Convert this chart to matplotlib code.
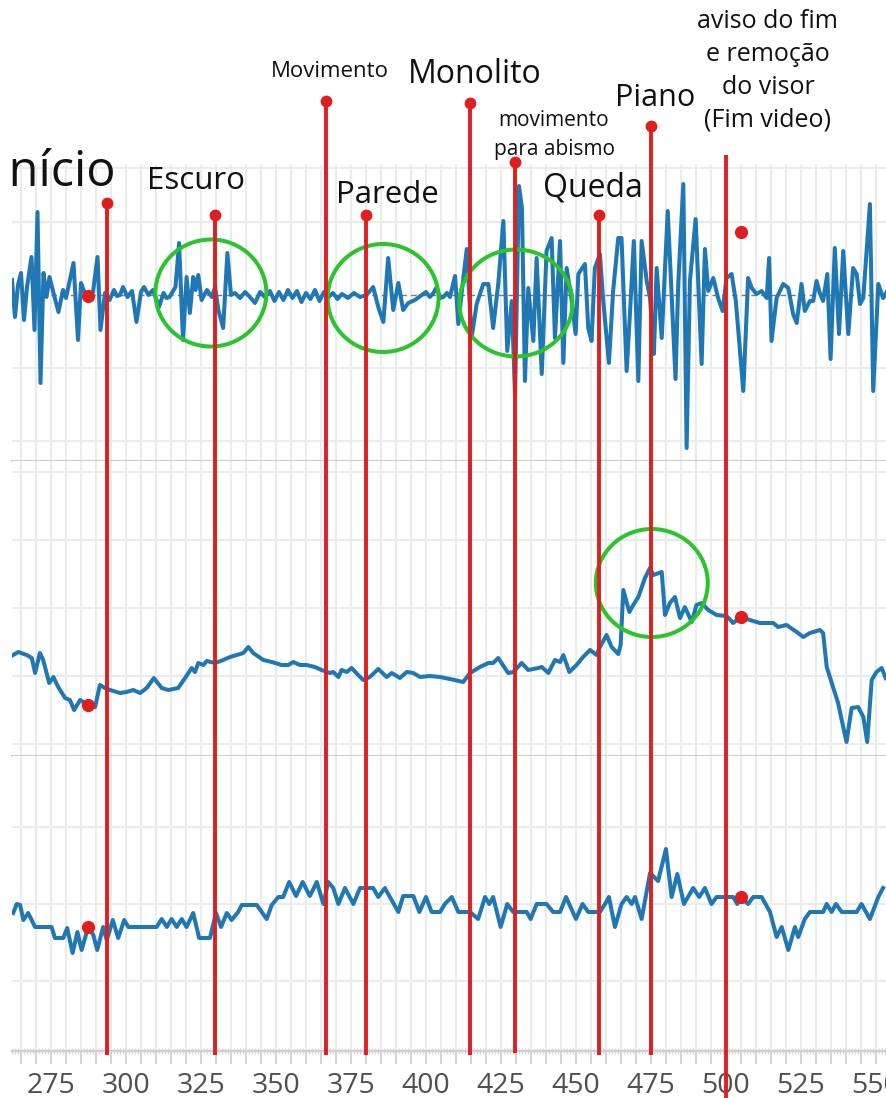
import matplotlib
matplotlib.use('Agg')
import matplotlib.pyplot as plt
from matplotlib.patches import Ellipse
from matplotlib.ticker import MultipleLocator, FuncFormatter

# ---- data (y in arbitrary units, 0 = panel reference line) ----
p1_x = [262, 263, 264, 265, 266, 267, 268.5, 269.5, 270.5, 271.5,
        272.5, 273.5, 274.5, 276, 277.5, 279, 280, 281.5, 282.5, 284,
        285, 286.5, 287.5, 289, 290.5, 291.5, 293, 294.5, 296, 297,
        298, 299, 300.5, 302, 303.5, 305, 306, 307.5, 309, 311,
        312.5, 313.5, 314.5, 316.5, 317.7, 319, 320.2, 321.3, 322.4, 323.2,
        324.1, 325.2, 327, 328.6, 329.7, 330.8, 332.4, 333.8, 335, 336.3,
        338, 339.7, 341.3, 343, 344.7, 346.3, 348, 349.5, 351, 352.5,
        354, 355.5, 357, 358.5, 360, 361.5, 363, 364.5, 366, 367.5,
        369, 370.5, 372, 374, 376, 378, 380.2, 382.4, 384.1, 385.8,
        387.4, 389.1, 390.8, 392.4, 394.1, 396.3, 398.6, 400, 401.3, 402.5,
        403.6, 404.7, 405.8, 407, 408, 409.7, 410.8, 412, 413.6, 415.2,
        416.9, 419.1, 420.8, 422.4, 424.1, 425.8, 427.1, 428.6, 429.7, 431,
        432, 433, 434.1, 435.8, 436.9, 438.6, 440.2, 441.9, 443, 444.7,
        445.8, 446.9, 448.6, 449.9, 450.8, 453, 454.1, 455.2, 456.3, 458,
        459.1, 461, 462.4, 464.1, 465.2, 466.9, 468, 469.3, 470.8, 471.9,
        473.6, 474.7, 476, 476.9, 478.6, 480.6, 481.9, 483.2, 484.1, 485.8,
        486.9, 488, 489.9, 490.9, 491.9, 493, 494.1, 495.8, 497.4, 498.9,
        500.2, 501.9, 503.3, 505.8, 507.4, 508.6, 510.2, 511.9, 513.6, 514.4,
        515.2, 516.9, 519.1, 520.8, 522.4, 523.6, 525.2, 526.3, 528, 529.1,
        530.2, 531.3, 532.4, 533.8, 534.9, 536.3, 537.7, 539.1, 540.8, 542.4,
        543.6, 544.7, 545.8, 548, 549.1, 550.8, 552.4, 554]
p1_y = [15, -22, 10, 22, -25, 8, 38, -35, 83, -88,
        22, -2, 18, 0, -17, 5, -3, 18, 32, -45,
        12, 0, 0, 3, 38, -35, 2, -5, 5, -1,
        0, 8, -2, 4, -27, 3, 8, 0, 5, -12,
        2, -3, -2, 8, 52, -45, 18, -18, 18, 5,
        20, -5, 5, -2, 8, -15, -33, 42, 0, 2,
        -3, 3, -2, -8, 3, -2, 4, -6, 3, -5,
        5, -3, 4, -7, 2, -4, 5, -6, 3, -2,
        2, -4, 1, -3, 2, -2, 0, 8, -12, -27,
        37, -15, 12, -15, -8, -5, 0, 3, -2, 2,
        8, -3, -2, 2, -2, 19, -29, 5, 46, -43,
        -9, 11, 11, -33, 11, 74, -56, -6, -101, 109,
        87, -86, 7, -46, 37, -79, 44, 57, -43, 54,
        -68, 27, -6, -39, 21, 31, -33, -46, 27, 41,
        -6, -68, 4, 57, 57, -76, -19, 54, -86, 54,
        14, -3, -59, 27, -43, 84, 0, -84, 11, 111,
        -153, 14, 76, 4, -69, 46, 4, 17, -3, -16,
        17, 21, -6, -96, 17, 7, 1, 4, -3, 37,
        -46, -3, 11, 7, -19, -28, 11, -16, -6, -6,
        14, 2, -6, 21, -64, 47, -39, 44, -39, 27,
        21, -9, -3, 91, -96, 11, -3, 5]

p2_x = [262.4, 264.1, 266.9, 268.6, 269.7, 271.3, 272.4, 274.4, 275.8, 277.4,
        279.7, 281.3, 282.7, 284.7, 287.4, 289.7, 291.3, 293, 294.7, 298,
        300.2, 302.4, 304.7, 306.9, 309.3, 311.9, 314.1, 317.4, 319.7, 321.9,
        323, 324.1, 325.8, 326.9, 329.7, 332.4, 334.7, 336.9, 339.1, 340.8,
        342.4, 345.8, 348.6, 351.9, 354.1, 355.8, 358, 360.2, 363, 365.2,
        368, 369.1, 370.8, 371.9, 373.6, 375.2, 377.4, 379.1, 381.3, 384.1,
        386.9, 388.6, 391.3, 393.6, 395.8, 398, 401.3, 404.7, 408, 412.4,
        414.7, 418, 420.8, 422.4, 424.1, 427.4, 429.1, 431.9, 434.1, 437.4,
        438.6, 440.8, 443, 444.7, 445.8, 447.8, 450.2, 452.4, 454.7, 456.9,
        458, 460.2, 461.9, 464.1, 464.9, 465.8, 467.8, 469.1, 470.8, 473,
        474.7, 475.8, 478.6, 479.7, 481.3, 483, 484.7, 486.3, 488.6, 490.2,
        491.9, 494.1, 496.9, 500.2, 502.4, 504.9, 508, 511.3, 515.8, 517.4,
        520.2, 523.6, 525.8, 528, 531.3, 532.4, 533.6, 535.8, 537.4, 538.6,
        540.2, 541.9, 544.1, 545.8, 547.1, 548.6, 550.2, 551.9, 553.3]
p2_y = [89, 92, 89, 86, 71, 91, 84, 61, 67, 57,
        46, 44, 34, 44, 39, 37, 59, 56, 54, 51,
        52, 54, 51, 56, 66, 56, 54, 56, 66, 76,
        72, 81, 79, 83, 81, 84, 87, 89, 91, 97,
        91, 84, 82, 79, 79, 82, 79, 79, 77, 74,
        71, 72, 67, 74, 72, 76, 69, 64, 67, 75,
        67, 71, 66, 72, 71, 67, 68, 67, 65, 62,
        71, 77, 81, 81, 86, 71, 72, 81, 74, 76,
        77, 71, 84, 82, 89, 72, 79, 87, 94, 89,
        97, 109, 97, 90, 99, 154, 132, 139, 147, 166,
        176, 169, 172, 129, 141, 147, 126, 137, 122, 139,
        141, 134, 129, 128, 121, 127, 124, 121, 121, 117,
        119, 112, 107, 111, 114, 111, 77, 56, 41, 24,
        2, 36, 37, 27, 2, 64, 72, 76, 66]

p3_x = [262.4, 263.6, 264.7, 265.8, 267.4, 269.7, 275.2, 276.3, 279.1, 280.4,
        282.2, 283.8, 285.2, 287.4, 289.1, 290.4, 292.4, 293.6, 295.6, 297.4,
        299.4, 300.8, 310.2, 311.9, 313.6, 315.2, 316.9, 318.6, 320.2, 322.4,
        324.4, 328, 330, 331.7, 333.6, 335.2, 337.4, 338.6, 343.6, 346.9,
        348.6, 350.8, 352.4, 354.4, 356.7, 358.9, 361.3, 363.6, 365.8, 367.4,
        369.1, 370.8, 373, 375.8, 378, 382.4, 384.1, 386.3, 388, 390.8,
        392.4, 395.8, 397.8, 400, 401.9, 404.7, 406.3, 408.6, 410.8, 414.7,
        417.4, 419.7, 421.1, 422.4, 424.9, 427.1, 429.1, 433.6, 434.9, 436.9,
        440.2, 442.4, 444.7, 446.7, 450, 452.2, 454.1, 458, 459.7, 461,
        463, 465.2, 466.9, 468.6, 469.7, 471.9, 474.7, 477.4, 480, 481.9,
        483.8, 486, 489.1, 491.1, 493, 495.2, 496.9, 502.4, 503.8, 504.9,
        507.4, 509.1, 511.9, 514.7, 516.9, 518.6, 520.8, 523, 524.1, 526.3,
        528, 532.4, 533.6, 535.2, 536.7, 538.6, 543.6, 545.2, 548, 550.8,
        552.4]
p3_y = [68, 77, 76, 61, 68, 54, 54, 43, 43, 53,
        28, 49, 31, 54, 46, 31, 54, 41, 61, 43,
        61, 54, 54, 62, 54, 62, 54, 62, 54, 68,
        43, 43, 68, 54, 68, 61, 69, 76, 76, 62,
        76, 84, 84, 99, 85, 99, 85, 99, 77, 99,
        93, 77, 93, 77, 93, 93, 84, 93, 84, 69,
        85, 85, 69, 84, 69, 69, 77, 84, 69, 69,
        62, 84, 77, 84, 54, 77, 69, 69, 62, 77,
        77, 69, 69, 84, 62, 77, 69, 69, 77, 84,
        54, 77, 84, 77, 84, 62, 108, 100, 132, 84,
        107, 77, 93, 84, 93, 77, 84, 84, 77, 84,
        77, 84, 84, 69, 44, 54, 31, 54, 44, 62,
        69, 69, 77, 69, 77, 69, 69, 77, 62, 84,
        93]

# red markers on the series (start / end of the video)
dot_x = [287.4, 504.9]
p1_dots = [-1, 63]
p2_dots = [39, 127]
p3_dots = [54, 84]

# events (vertical red lines) and their labels
event_x = [293.7, 329.7, 366.7, 380, 414.7, 429.7, 457.7, 475, 500]
event_labels = ['Início', 'Escuro', 'Movimento', 'Parede', 'Monolito',
                'movimento\npara abismo', 'Queda', 'Piano',
                'aviso do fim\ne remoção\ndo visor\n(Fim video)']

# highlighted regions (green circles): centre x in data units
circle_x = [328.3, 385.7, 430, 475.3]

# ---- layout (pixels of the 887x1098 canvas) ----
W, H = 887, 1098
LEFT = 12 / W
XLIM = (262, 553.7)
BLUE = '#1f77b4'
RED = '#e01e1e'
GREEN = '#2cc42c'
GRID = '#ebebeb'

event_top = [203, 215, 101, 215, 103, 162, 215, 126, 155]
event_bottom = [1055, 1055, 1055, 1055, 1055, 1053, 1055, 1055, 1098]
event_dot = [True] * 8 + [False]

label_x = [296.6, 323.3, 368, 387, 416.3, 442.7, 455.7, 476.3, 514]
label_y = [186, 189, 77, 203, 83, 135, 197, 106, 71]
label_size = [35, 22.5, 16, 22.5, 23, 15, 23, 22, 18]
label_ha = ['right'] + ['center'] * 8
label_va = ['baseline'] * 5 + ['center', 'baseline', 'baseline', 'center']
label_ls = [1.3] * 5 + [1.45, 1.3, 1.3, 1.42]

circle_y = [293, 298, 303, 583]
circle_w = [37, 37, 37.7, 37.3]
circle_h = [107, 108, 107, 108]


def style_axis(ax, ylim, yticks, show_x):
    ax.set_xlim(*XLIM)
    ax.set_ylim(*ylim)
    ax.set_yticks(yticks)
    ax.xaxis.set_major_locator(MultipleLocator(5))
    ax.xaxis.set_minor_locator(MultipleLocator(1))
    ax.grid(True, which='major', color=GRID, lw=1.5)
    ax.set_axisbelow(True)
    for s in ['top', 'left', 'right']:
        ax.spines[s].set_visible(False)
    ax.spines['bottom'].set_color('#cfcfcf')
    ax.spines['bottom'].set_linewidth(1.6)
    ax.tick_params(axis='y', length=0, labelleft=False)
    if show_x:
        ax.xaxis.set_major_formatter(FuncFormatter(
            lambda v, pos: '%d' % round(v) if round(v) % 25 == 0 else ''))
        ax.tick_params(axis='x', which='major', length=9, width=1.2,
                       color='#cccccc', labelsize=20.5, labelcolor='#505050',
                       pad=6)
        ax.tick_params(axis='x', which='minor', length=4, width=1.0,
                       color='#d8d8d8', direction='inout')
        for lab in ax.get_xticklabels():
            lab.set_family('Open Sans')
    else:
        ax.tick_params(axis='x', which='both', length=0, labelbottom=False)


fig = plt.figure(figsize=(W / 100, H / 100), dpi=100)

# panel 1: px 165..461
ax1 = fig.add_axes([LEFT, 1 - 461 / H, 1 - LEFT, 296 / H])
style_axis(ax1, (-166, 130), [-146, -73, 73], False)
ax1.axhline(127, color=GRID, lw=1.5, zorder=0)
ax1.axhline(0, color='#7a7a7a', lw=1.0, dashes=(4, 3), zorder=1)
ax1.plot(p1_x, p1_y, color=BLUE, lw=2.9, zorder=2)
ax1.plot(dot_x, p1_dots, 'o', color=RED, ms=8.5, zorder=3)

# panel 2: px 461..756
ax2 = fig.add_axes([LEFT, 1 - 756 / H, 1 - LEFT, 295 / H])
style_axis(ax2, (-12, 283), [0, 68, 136, 204, 272], False)
ax2.plot(p2_x, p2_y, color=BLUE, lw=2.9, zorder=2)
ax2.plot(dot_x, p2_dots, 'o', color=RED, ms=8.5, zorder=3)

# panel 3: px 756..1051
ax3 = fig.add_axes([LEFT, 1 - 1051 / H, 1 - LEFT, 295 / H])
style_axis(ax3, (-70, 225), [0, 77, 154], True)
ax3.plot(p3_x, p3_y, color=BLUE, lw=2.9, zorder=2)
ax3.plot(dot_x, p3_dots, 'o', color=RED, ms=8.5, zorder=3)

# overlay in figure pixels (y from top) sharing the data x scale
ov = fig.add_axes([LEFT, 0, 1 - LEFT, 1])
ov.set_xlim(*XLIM)
ov.set_ylim(H, 0)
ov.axis('off')
ov.patch.set_alpha(0)

ov.vlines(event_x, event_top, event_bottom, color=RED, lw=2.8)
for x, t, d in zip(event_x, event_top, event_dot):
    if d:
        ov.plot([x], [t], 'o', color=RED, ms=7.5)

for x, y, w, h in zip(circle_x, circle_y, circle_w, circle_h):
    ov.add_patch(Ellipse((x, y), w, h, fill=False, edgecolor=GREEN, lw=2.9))

for txt, x, y, s, ha, va, ls in zip(event_labels, label_x, label_y, label_size,
                                    label_ha, label_va, label_ls):
    t = ov.text(x, y, txt, ha=ha, va=va, fontsize=s, family='Open Sans',
                color='#111111', linespacing=ls, clip_on=True)
    t.set_clip_path(ov.patch)

fig.savefig('out.png', dpi=100)
